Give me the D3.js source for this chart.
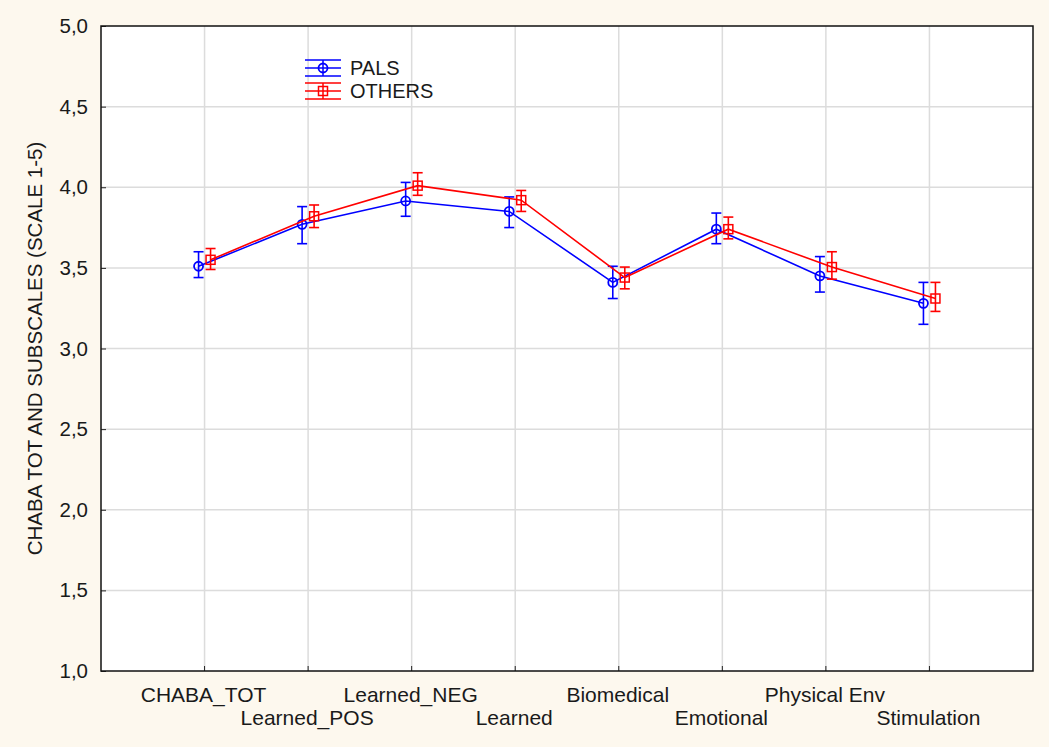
<!DOCTYPE html>
<html>
<head>
<meta charset="utf-8">
<script src="https://cdn.jsdelivr.net/npm/d3@7"></script>
<style>
  body { margin: 0; background: #fdf8ee; }
  text { font-family: "Liberation Sans", Arial, sans-serif; fill: #1a1a1a; }
</style>
</head>
<body>
<div id="chart"></div>
<script>
var svgWidth = 1049;
var svgHeight = 747;

var margin = { top: 26, right: 16, bottom: 76, left: 101 };
var width = svgWidth - margin.left - margin.right;
var height = svgHeight - margin.top - margin.bottom;

// data
var categories = ["CHABA_TOT", "Learned_POS", "Learned_NEG", "Learned", "Biomedical", "Emotional", "Physical Env", "Stimulation"];
var palsMean = [3.51, 3.77, 3.915, 3.85, 3.41, 3.74, 3.45, 3.28];
var palsLow  = [3.44, 3.65, 3.82, 3.75, 3.31, 3.65, 3.35, 3.15];
var palsHigh = [3.60, 3.88, 4.03, 3.94, 3.51, 3.84, 3.57, 3.41];
var othMean  = [3.55, 3.82, 4.01, 3.92, 3.44, 3.74, 3.505, 3.31];
var othLow   = [3.49, 3.75, 3.95, 3.85, 3.37, 3.68, 3.43, 3.23];
var othHigh  = [3.62, 3.89, 4.09, 3.98, 3.505, 3.815, 3.60, 3.41];
var yTicks = [1.0, 1.5, 2.0, 2.5, 3.0, 3.5, 4.0, 4.5, 5.0];

var series = [
  { name: "PALS", color: "#0000ff", shape: "circle", offset: -6, mean: palsMean, low: palsLow, high: palsHigh },
  { name: "OTHERS", color: "#ff0000", shape: "square", offset: 6, mean: othMean, low: othLow, high: othHigh }
];

var svg = d3.select("#chart")
  .append("svg")
  .attr("width", svgWidth)
  .attr("height", svgHeight);

var chartGroup = svg.append("g")
  .attr("transform", `translate(${margin.left}, ${margin.top})`);

var xScale = d3.scaleLinear()
  .domain([0, categories.length + 1])
  .range([0, width]);

var yScale = d3.scaleLinear()
  .domain([1, 5])
  .range([height, 0]);

// plot background
chartGroup.append("rect")
  .attr("width", width)
  .attr("height", height)
  .attr("fill", "#fff");

// gridlines
chartGroup.append("g")
  .selectAll("line")
  .data(yTicks.slice(1, -1))
  .join("line")
  .attr("x1", 0).attr("x2", width)
  .attr("y1", d => yScale(d)).attr("y2", d => yScale(d))
  .attr("stroke", "#dcdcdc").attr("stroke-width", 1.5);

chartGroup.append("g")
  .selectAll("line")
  .data(categories)
  .join("line")
  .attr("x1", (d, i) => xScale(i + 1)).attr("x2", (d, i) => xScale(i + 1))
  .attr("y1", 0).attr("y2", height)
  .attr("stroke", "#dcdcdc").attr("stroke-width", 1.5);

// y axis
var leftAxis = d3.axisLeft(yScale)
  .tickValues(yTicks)
  .tickSize(-5)
  .tickPadding(13)
  .tickFormat(d => d3.format(".1f")(d).replace(".", ","));

var yAxis = chartGroup.append("g").call(leftAxis);
yAxis.attr("font-size", null).attr("font-family", null);
yAxis.select(".domain").remove();
yAxis.selectAll("line").attr("stroke", "#222");
yAxis.selectAll("text").style("font-size", "20.5px").attr("fill", "#1a1a1a");

// x ticks (inside)
chartGroup.append("g")
  .selectAll("line")
  .data(categories)
  .join("line")
  .attr("x1", (d, i) => xScale(i + 1)).attr("x2", (d, i) => xScale(i + 1))
  .attr("y1", height).attr("y2", height - 5)
  .attr("stroke", "#222");

// x labels, staggered
chartGroup.append("g")
  .selectAll("text")
  .data(categories)
  .join("text")
  .attr("x", (d, i) => xScale(i + 1) - 1)
  .attr("y", (d, i) => height + (i % 2 === 0 ? 31 : 54))
  .attr("text-anchor", "middle")
  .style("font-size", "21px")
  .text(d => d);

// frame
chartGroup.append("rect")
  .attr("width", width)
  .attr("height", height)
  .attr("fill", "none")
  .attr("stroke", "#111")
  .attr("stroke-width", 1.5);

// y axis title
svg.append("text")
  .attr("transform", `translate(42, ${margin.top + height / 2}) rotate(-90)`)
  .attr("text-anchor", "middle")
  .style("font-size", "20.5px")
  .text("CHABA TOT AND SUBSCALES (SCALE 1-5)");

function drawMarker(g, shape, color, x, y) {
  if (shape === "circle") {
    g.append("circle")
      .attr("cx", x).attr("cy", y).attr("r", 4.5)
      .attr("fill", "none").attr("stroke", color).attr("stroke-width", 1.8);
  } else {
    g.append("rect")
      .attr("x", x - 4.5).attr("y", y - 4.5)
      .attr("width", 9).attr("height", 9)
      .attr("fill", "none").attr("stroke", color).attr("stroke-width", 1.5);
  }
}

var line = d3.line();

series.forEach(s => {
  var g = chartGroup.append("g");
  var pts = s.mean.map((v, i) => [xScale(i + 1) + s.offset, yScale(v)]);

  g.append("path")
    .attr("d", line(pts))
    .attr("fill", "none")
    .attr("stroke", s.color)
    .attr("stroke-width", 1.6);

  // error bars
  s.mean.forEach((v, i) => {
    var x = xScale(i + 1) + s.offset;
    g.append("line")
      .attr("x1", x).attr("x2", x)
      .attr("y1", yScale(s.low[i])).attr("y2", yScale(s.high[i]))
      .attr("stroke", s.color).attr("stroke-width", 1.6);
    [s.low[i], s.high[i]].forEach(e => {
      g.append("line")
        .attr("x1", x - 5).attr("x2", x + 5)
        .attr("y1", yScale(e)).attr("y2", yScale(e))
        .attr("stroke", s.color).attr("stroke-width", 1.6);
    });
    drawMarker(g, s.shape, s.color, x, yScale(v));
  });
});

// legend
var legend = svg.append("g").attr("transform", "translate(305, 68)");
series.forEach((s, i) => {
  var lg = legend.append("g").attr("transform", `translate(0, ${i * 23})`);
  [-8, 0, 8].forEach(dy => {
    lg.append("line")
      .attr("x1", 0).attr("x2", 36)
      .attr("y1", dy).attr("y2", dy)
      .attr("stroke", s.color).attr("stroke-width", 1.5);
  });
  lg.append("line")
    .attr("x1", 18).attr("x2", 18)
    .attr("y1", -8).attr("y2", 8)
    .attr("stroke", s.color).attr("stroke-width", 1.5);
  drawMarker(lg, s.shape, s.color, 18, 0);
  lg.append("text")
    .attr("x", 45)
    .attr("y", 7)
    .style("font-size", "20px")
    .text(s.name);
});
</script>
</body>
</html>
